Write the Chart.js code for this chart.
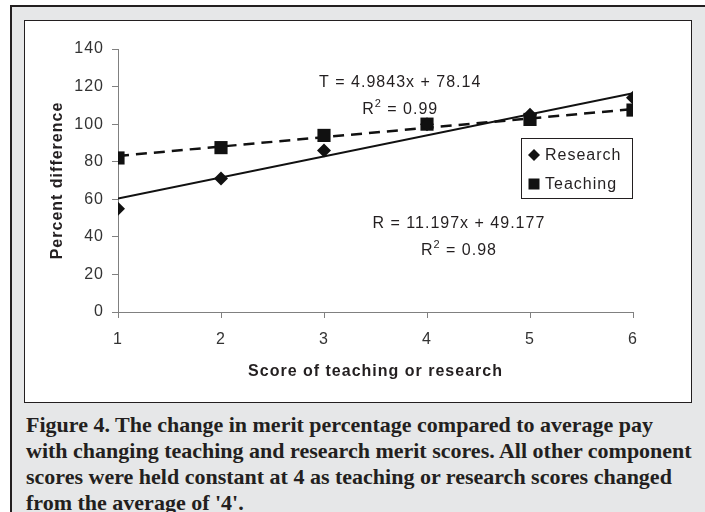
<!DOCTYPE html>
<html lang="en">
<head>
<meta charset="UTF-8">
<title>Figure 4. Merit percentage vs score</title>
<script src="https://cdn.jsdelivr.net/npm/chart.js"></script>
<style>
  html, body { margin: 0; padding: 0; background: #fff; }
  body { width: 705px; height: 512px; overflow: hidden; position: relative; }
  .frame {
    position: absolute; left: 10px; top: 5px; width: 695px; height: 507px;
    box-sizing: border-box; background: #e6e7e8;
    border-left: 2px solid #231f20; border-top: 2px solid #231f20;
  }
  .panel {
    position: absolute; left: 24px; top: 20px; width: 668px; height: 383px;
    box-sizing: border-box; background: #fff; border: 1px solid #231f20;
  }
  .panel canvas { display: block; }
  .caption {
    position: absolute; left: 26px; top: 412px;
    font: bold 22px "Liberation Serif", "Times New Roman", serif;
    line-height: 26px; color: #231f20; white-space: nowrap;
  }
</style>
</head>
<body>
<div class="frame"></div>
<div class="panel"><canvas id="meritChart" width="666" height="381"></canvas></div>
<div class="caption">
  Figure 4. The change in merit percentage compared to average pay<br>
  with changing teaching and research merit scores. All other component<br>
  scores were held constant at 4 as teaching or research scores changed<br>
  from the average of '4'.
</div>

<script>
  // values
  const scores = [1, 2, 3, 4, 5, 6];
  const research = [55, 71, 86, 100, 105, 114];
  const teaching = [82, 87.5, 94, 100, 102.5, 107.5];

  // fitted trend lines, endpoints at score 1 and 6
  const trendScores = [1, 6];
  const researchTrend = [60.4, 116.4];
  const teachingTrend = [83.1, 108.0];

  const seriesNames = ['Research', 'Teaching'];
  const teachingEq = ['T = 4.9843x + 78.14', ' = 0.99'];
  const researchEq = ['R = 11.197x + 49.177', ' = 0.98'];

  const xTicks = [1, 2, 3, 4, 5, 6];
  const yTicks = [0, 20, 40, 60, 80, 100, 120, 140];

  const xTitle = 'Score of teaching or research';
  const yTitle = 'Percent difference';

  const ink = '#111';
  const textColor = '#231f20';
  const axisColor = '#808080';
  const font = '"Liberation Sans", Arial, sans-serif';

  function pairs(xs, ys) {
    return xs.map((x, i) => ({ x: x, y: ys[i] }));
  }

  function drawMarker(ctx, style, x, y, r) {
    ctx.beginPath();
    if (style === 'rectRot') {
      ctx.moveTo(x - r, y);
      ctx.lineTo(x, y - r);
      ctx.lineTo(x + r, y);
      ctx.lineTo(x, y + r);
      ctx.closePath();
    } else {
      ctx.rect(x - r, y - r, 2 * r, 2 * r);
    }
    ctx.fill();
  }

  // R^2 text with a raised small "2", centred on x
  function drawRSquared(ctx, rest, cx, cy) {
    ctx.font = '16px ' + font;
    const wR = ctx.measureText('R').width;
    const wRest = ctx.measureText(rest).width;
    ctx.font = '11px ' + font;
    const w2 = ctx.measureText('2').width;
    let x = cx - (wR + w2 + wRest) / 2;
    ctx.textAlign = 'left';
    ctx.textBaseline = 'middle';
    ctx.font = '16px ' + font;
    ctx.fillText('R', x, cy);
    x += wR;
    ctx.font = '11px ' + font;
    ctx.fillText('2', x, cy - 6);
    x += w2;
    ctx.font = '16px ' + font;
    ctx.fillText(rest, x, cy);
  }

  const spacingPlugin = {
    id: 'spacing',
    beforeDraw(chart) {
      chart.ctx.letterSpacing = '1px';
    }
  };

  const notesPlugin = {
    id: 'notes',
    afterDraw(chart) {
      const ctx = chart.ctx;
      const xs = chart.scales.x, ys = chart.scales.y;
      const ca = chart.chartArea;
      ctx.save();
      ctx.letterSpacing = '1px';
      ctx.fillStyle = textColor;
      ctx.textAlign = 'center';
      ctx.textBaseline = 'middle';

      // equations
      ctx.font = '16px ' + font;
      ctx.fillText(teachingEq[0], xs.getPixelForValue(3.74), ys.getPixelForValue(121.9));
      drawRSquared(ctx, teachingEq[1], xs.getPixelForValue(3.74), ys.getPixelForValue(107.6));
      ctx.textAlign = 'center';
      ctx.font = '16px ' + font;
      ctx.fillText(researchEq[0], xs.getPixelForValue(4.31), ys.getPixelForValue(46.8));
      drawRSquared(ctx, researchEq[1], xs.getPixelForValue(4.31), ys.getPixelForValue(32.6));

      // legend box
      const bx = ca.right - 112, by = ca.top + 89, bw = 111, bh = 60;
      ctx.fillStyle = '#fff';
      ctx.fillRect(bx, by, bw, bh);
      ctx.strokeStyle = textColor;
      ctx.lineWidth = 1;
      ctx.strokeRect(bx + 0.5, by + 0.5, bw, bh);

      ctx.fillStyle = ink;
      drawMarker(ctx, 'rectRot', bx + 13, by + 17, 6);
      drawMarker(ctx, 'rect', bx + 13, by + 46, 5.5);

      ctx.fillStyle = textColor;
      ctx.textAlign = 'left';
      ctx.font = '16px ' + font;
      ctx.fillText(seriesNames[0], bx + 24, by + 18);
      ctx.fillText(seriesNames[1], bx + 24, by + 47);
      ctx.restore();
    }
  };

  Chart.defaults.font.family = font;
  Chart.defaults.color = textColor;

  new Chart(document.getElementById('meritChart'), {
    type: 'scatter',
    data: {
      datasets: [
        {
          label: seriesNames[0],
          data: pairs(scores, research),
          pointStyle: 'rectRot',
          pointRadius: 7,
          backgroundColor: ink,
          borderWidth: 0,
          showLine: false
        },
        {
          label: seriesNames[1],
          data: pairs(scores, teaching),
          pointStyle: 'rect',
          pointRadius: 9.3,
          backgroundColor: ink,
          borderWidth: 0,
          showLine: false
        },
        {
          label: 'Research trend',
          data: pairs(trendScores, researchTrend),
          showLine: true,
          pointRadius: 0,
          borderColor: ink,
          borderWidth: 2
        },
        {
          label: 'Teaching trend',
          data: pairs(trendScores, teachingTrend),
          showLine: true,
          pointRadius: 0,
          borderColor: ink,
          borderWidth: 2.5,
          borderDash: [11, 7]
        }
      ]
    },
    options: {
      responsive: false,
      animation: false,
      devicePixelRatio: 1,
      layout: { padding: { top: 28, right: 58, left: 0, bottom: 0 } },
      plugins: {
        legend: { display: false },
        tooltip: { enabled: false }
      },
      scales: {
        x: {
          type: 'linear',
          min: 1,
          max: 6,
          afterBuildTicks(scale) { scale.ticks = xTicks.map(v => ({ value: v })); },
          afterFit(scale) { scale.height = 90; },
          grid: { drawOnChartArea: false, drawTicks: true, tickLength: 6, color: axisColor },
          border: { color: axisColor, width: 1 },
          ticks: { font: { size: 16 }, color: '#333', padding: 12 },
          title: {
            display: true,
            text: xTitle,
            font: { size: 16, weight: 'bold' },
            color: textColor,
            padding: { top: 0, bottom: 21 }
          }
        },
        y: {
          min: 0,
          max: 140,
          afterBuildTicks(scale) { scale.ticks = yTicks.map(v => ({ value: v })); },
          afterFit(scale) { scale.width = 93; },
          grid: { drawOnChartArea: false, drawTicks: true, tickLength: 6, color: axisColor },
          border: { color: axisColor, width: 1 },
          ticks: { font: { size: 16 }, color: '#333', padding: 8 },
          title: {
            display: true,
            text: yTitle,
            font: { size: 16, weight: 'bold' },
            color: textColor,
            padding: { top: 23, bottom: 0 }
          }
        }
      }
    },
    plugins: [spacingPlugin, notesPlugin]
  });
</script>
</body>
</html>
